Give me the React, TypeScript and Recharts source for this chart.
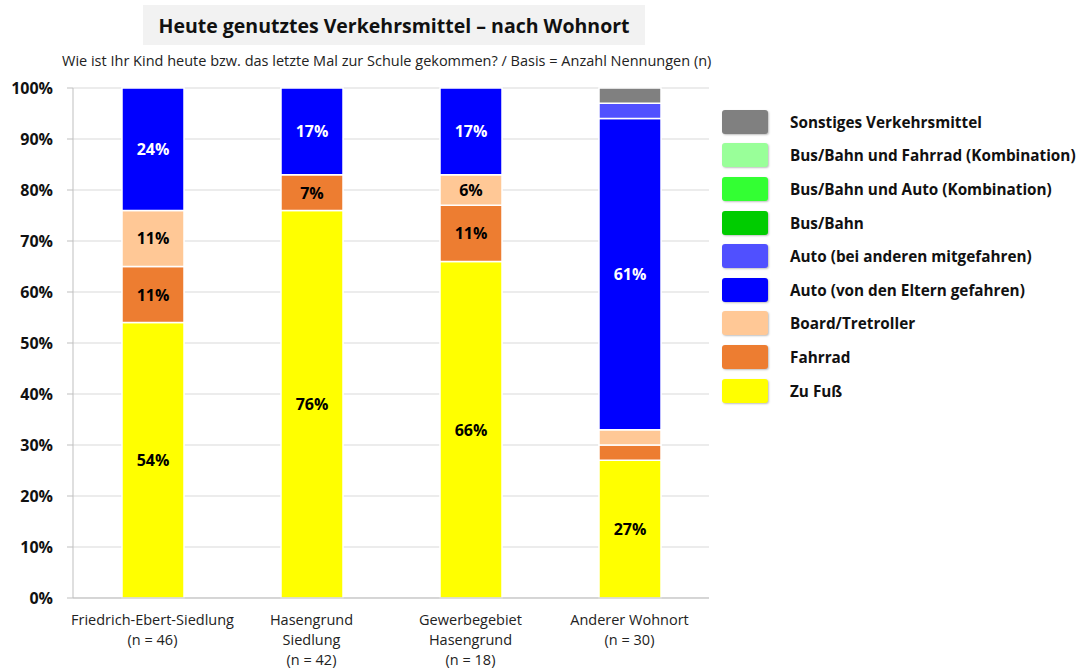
import { BarChart, Bar, XAxis, YAxis, CartesianGrid, LabelList } from 'recharts';

const FONT = '"Open Sans", sans-serif';

const categories = ['Friedrich-Ebert-Siedlung|(n = 46)', 'Hasengrund|Siedlung|(n = 42)', 'Gewerbegebiet|Hasengrund|(n = 18)', 'Anderer Wohnort|(n = 30)'];

const zuFuss = [54, 76, 66, 27];
const fahrrad = [11, 7, 11, 3];
const board = [11, 0, 6, 3];
const autoEltern = [24, 17, 17, 61];
const autoAndere = [0, 0, 0, 3];
const busBahn = [0, 0, 0, 0];
const busAuto = [0, 0, 0, 0];
const busFahrrad = [0, 0, 0, 0];
const sonstiges = [0, 0, 0, 3];

const yTicks = [0, 10, 20, 30, 40, 50, 60, 70, 80, 90, 100];

const series = [
  { key: 'zuFuss', name: 'Zu Fuß', values: zuFuss, color: '#FFFF00', text: '#000' },
  { key: 'fahrrad', name: 'Fahrrad', values: fahrrad, color: '#ED7D31', text: '#000' },
  { key: 'board', name: 'Board/Tretroller', values: board, color: '#FFC896', text: '#000' },
  { key: 'autoEltern', name: 'Auto (von den Eltern gefahren)', values: autoEltern, color: '#0000FF', text: '#fff' },
  { key: 'autoAndere', name: 'Auto (bei anderen mitgefahren)', values: autoAndere, color: '#5050FF', text: '#fff' },
  { key: 'busBahn', name: 'Bus/Bahn', values: busBahn, color: '#00CC00', text: '#000' },
  { key: 'busAuto', name: 'Bus/Bahn und Auto (Kombination)', values: busAuto, color: '#33FF33', text: '#000' },
  { key: 'busFahrrad', name: 'Bus/Bahn und Fahrrad (Kombination)', values: busFahrrad, color: '#99FF99', text: '#000' },
  { key: 'sonstiges', name: 'Sonstiges Verkehrsmittel', values: sonstiges, color: '#808080', text: '#fff' },
];

const data = categories.map((c, i) => {
  const row: any = { cat: c };
  series.forEach((s) => { row[s.key] = s.values[i]; });
  return row;
});

function XTick({ x, y, payload }: any) {
  const lines = String(payload.value).split('|');
  return (
    <text x={x} y={y + 19} textAnchor="middle" fontSize={14.5} fill="#222" fontFamily={FONT}>
      {lines.map((l, i) => (
        <tspan key={i} x={x} dy={i === 0 ? 0 : 20}>{l}</tspan>
      ))}
    </text>
  );
}

function makeLabel(color: string) {
  return (props: any) => {
    const { x, y, width, height, value } = props;
    if (!value || value < 5) return null;
    return (
      <text x={x + width / 2} y={y + height / 2} dy={6} textAnchor="middle" fontSize={16} fontWeight={700} fill={color} fontFamily={FONT}>
        {value}%
      </text>
    );
  };
}

function LegendBox() {
  const items = [...series].reverse();
  return (
    <div style={{ position: 'absolute', left: 722, top: 105, fontFamily: FONT }}>
      {items.map((s) => (
        <div key={s.key} style={{ display: 'flex', alignItems: 'center', height: 33.6 }}>
          <div style={{ width: 46, height: 24, background: s.color, borderRadius: 3, boxShadow: '1px 1px 2px rgba(0,0,0,0.25)' }} />
          <span style={{ marginLeft: 22, fontSize: 15.3, fontWeight: 700, color: '#111', whiteSpace: 'nowrap' }}>{s.name}</span>
        </div>
      ))}
    </div>
  );
}

export default function App() {
  return (
    <div style={{ position: 'fixed', left: 0, top: 0, width: 1076, height: 669, background: '#fff', fontFamily: FONT }}>
      <div style={{ position: 'absolute', left: 0, top: 0 }}>
        <BarChart width={1076} height={669} data={data} margin={{ top: 88, right: 367, left: 13, bottom: 11 }} barSize={62}>
          <CartesianGrid vertical={false} stroke="#D9D9D9" />
          <XAxis dataKey="cat" tick={<XTick />} tickLine={false} axisLine={{ stroke: '#BFBFBF' }} height={60} interval={0} />
          <YAxis
            width={60}
            domain={[0, 100]}
            ticks={yTicks}
            tickFormatter={(v) => `${v}%`}
            tick={{ fontSize: 16, fontWeight: 700, fill: '#111', fontFamily: FONT }}
            tickLine={{ stroke: '#BFBFBF' }}
            axisLine={{ stroke: '#BFBFBF' }}
            tickSize={6}
            tickMargin={14}
            interval={0}
          />
          {series.map((s) => (
            <Bar key={s.key} dataKey={s.key} name={s.name} stackId="a" fill={s.color} stroke="#fff" strokeWidth={1.5} isAnimationActive={false}>
              <LabelList dataKey={s.key} content={makeLabel(s.text)} />
            </Bar>
          ))}
        </BarChart>
      </div>
      <div style={{ position: 'absolute', left: 143, top: 5, width: 502, height: 40, background: '#F2F2F2', display: 'flex', alignItems: 'center', justifyContent: 'center', fontSize: 19.5, fontWeight: 700, color: '#111' }}>
        Heute genutztes Verkehrsmittel – nach Wohnort
      </div>
      <div style={{ position: 'absolute', left: 62, top: 51, fontSize: 14.5, color: '#222', whiteSpace: 'nowrap' }}>
        Wie ist Ihr Kind heute bzw. das letzte Mal zur Schule gekommen? / Basis = Anzahl Nennungen (n)
      </div>
      <LegendBox />
    </div>
  );
}
